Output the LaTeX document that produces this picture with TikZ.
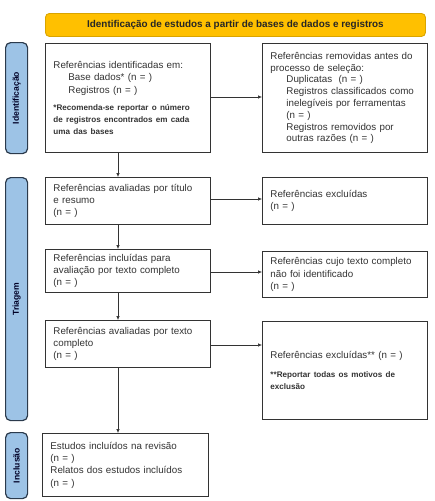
\documentclass[tikz,border=0pt]{standalone}
\usepackage{fontspec}
\setmainfont{Liberation Sans}
\usetikzlibrary{arrows.meta}
\definecolor{bannerfill}{HTML}{FFC000}
\definecolor{bannerdraw}{HTML}{D9A400}
\definecolor{sidefill}{HTML}{9DC3E6}
\definecolor{sidedraw}{HTML}{2B3A4C}
\definecolor{txt}{HTML}{333333}
\newcommand\mynotefont{\bfseries\fontsize{8.1}{11.5}\selectfont}
\tikzset{
  flowbox/.style={draw=black!80, line width=0.9pt, fill=white, rectangle, anchor=north west,
    inner xsep=8pt, inner ysep=2pt, align=left, font=\fontsize{9.8}{12.3}\selectfont, text=txt},
  sidebar/.style={draw=sidedraw, line width=1.2pt, fill=sidefill, rounded corners=5pt,
    anchor=north west, minimum width=22pt, inner sep=0pt},
  sidelabel/.style={rotate=90, font=\bfseries\fontsize{8.6}{10}\selectfont, text=black!85!blue},
  flowarrow/.style={draw=black!80, line width=0.6pt, -{Latex[length=4pt,width=3.5pt]}}
}
\begin{document}
\begin{tikzpicture}[x=1pt,y=-1pt]
\useasboundingbox (0,0) rectangle (435,501);
% banner
\node[draw=bannerdraw, line width=0.9pt, fill=bannerfill, rounded corners=4pt, anchor=north west,
  minimum width=380pt, minimum height=23pt, inner sep=0pt,
  font=\bfseries\fontsize{9.9}{11}\selectfont, text=black!85] (banner) at (45,13)
  {Identificação de estudos a partir de bases de dados e registros};
% side bars
\node[sidebar, minimum height=111pt] (sid) at (5,42) {};
\node[sidelabel] (sidl) at (sid.center) {Identificação};
\node[sidebar, minimum height=243pt] (stri) at (5,177) {};
\node[sidelabel] (stril) at (stri.center) {Triagem};
\node[sidebar, minimum height=66pt] (sinc) at (5,432) {};
\node[sidelabel] (sincl) at (sinc.center) {Inclusão};
% left column
\node[flowbox, minimum width=165pt, minimum height=109pt, text width=149pt] (b1) at (45,43)
 {Referências identificadas em:\\
  \hspace*{15pt}Base dados* (n = )\\
  \hspace*{15pt}Registros (n = )\\[6pt]
  {\mynotefont *Recomenda-se reportar o número\\ de registros encontrados em cada\\ uma das bases}};
\node[flowbox, minimum width=165pt, minimum height=47pt, text width=149pt] (b3) at (45,177)
 {Referências avaliadas por título\\ e resumo\\ (n = )};
\node[flowbox, minimum width=165pt, minimum height=43pt, text width=149pt] (b5) at (45,249)
 {Referências incluídas para\\ avaliação por texto completo\\ (n = )};
\node[flowbox, minimum width=165pt, minimum height=47pt, text width=149pt] (b7) at (45,320)
 {Referências avaliadas por texto\\ completo\\ (n = )};
\node[flowbox, minimum width=166pt, minimum height=63pt, text width=150pt] (b9) at (42,433)
 {Estudos incluídos na revisão\\ (n = )\\ Relatos dos estudos incluídos\\ (n = )};
% right column
\node[flowbox, minimum width=165pt, minimum height=109pt, text width=149pt,
  font=\fontsize{9.8}{11.8}\selectfont] (b2) at (262,43)
 {Referências removidas antes do\\ processo de seleção:\\
  \hspace*{16pt}Duplicatas\ \ (n = )\\
  \hspace*{16pt}Registros classificados como\\
  \hspace*{16pt}inelegíveis por ferramentas\\
  \hspace*{16pt}(n = )\\
  \hspace*{16pt}Registros removidos por\\
  \hspace*{16pt}outras razões (n = )};
\node[flowbox, minimum width=165pt, minimum height=47pt, text width=149pt] (b4) at (262,177)
 {Referências excluídas\\ (n = )};
\node[flowbox, minimum width=165pt, minimum height=46pt, text width=149pt] (b6) at (262,251)
 {Referências cujo texto completo\\ não foi identificado\\ (n = )};
\node[flowbox, minimum width=165pt, minimum height=98pt, text width=149pt] (b8) at (262,321)
 {Referências excluídas** (n = )\\[7pt]
  {\mynotefont **Reportar todas os motivos de\\ exclusão}};
% arrows
\coordinate (a12) at (b1.east |- 0,97);
\draw[flowarrow] (a12) -- (a12 -| b2.west);
\coordinate (a34) at (b3.east |- 0,199);
\draw[flowarrow] (a34) -- (a34 -| b4.west);
\coordinate (a56) at (b5.east |- 0,272);
\draw[flowarrow] (a56) -- (a56 -| b6.west);
\coordinate (a78) at (b7.east |- 0,345);
\draw[flowarrow] (a78) -- (a78 -| b8.west);
\coordinate (d1) at (118,0);
\draw[flowarrow] (d1 |- b1.south) -- (d1 |- b3.north);
\draw[flowarrow] (d1 |- b3.south) -- (d1 |- b5.north);
\draw[flowarrow] (d1 |- b5.south) -- (d1 |- b7.north);
\draw[flowarrow] (d1 |- b7.south) -- (d1 |- b9.north);
\end{tikzpicture}
\end{document}
